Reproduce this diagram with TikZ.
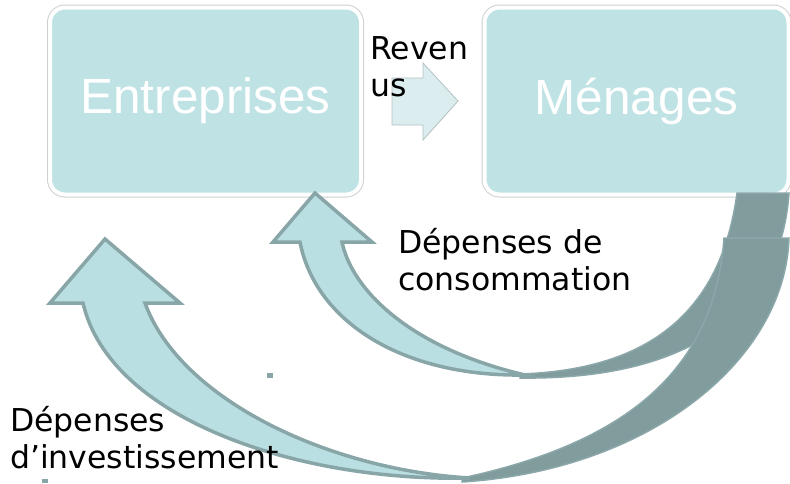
\documentclass[tikz,border=0pt]{standalone}
\usepackage{fontspec}
\setmainfont{DejaVu Sans}
\newfontfamily\boxfont{Liberation Sans}
\definecolor{boxfill}{HTML}{BFE2E4}
\definecolor{arrowfill}{HTML}{BADFE2}
\definecolor{arrowline}{HTML}{88A5A7}
\definecolor{darkband}{HTML}{819C9D}
\definecolor{darkline}{HTML}{8BA7A9}
\definecolor{revfill}{HTML}{DCEDEF}
\definecolor{revline}{HTML}{B3C1C2}
\definecolor{ringgray}{HTML}{CFCFCF}
\tikzset{
  boxnode/.style={rounded corners=15pt, inner sep=0pt, fill=boxfill, draw=white, line width=4pt,
    preaction={draw=ringgray, line width=6pt}, text=white,
    font=\boxfont\fontsize{49.5}{56}\selectfont},
  lightarrow/.style={fill=arrowfill, draw=arrowline, line width=3.5pt, line join=miter},
  darkarrow/.style={fill=darkband, draw=darkline, line width=1.5pt},
  revarrow/.style={fill=revfill, draw=revline, line width=0.8pt},
  lbl/.style={font=\fontsize{31.5}{37}\selectfont, inner sep=0pt, align=left, anchor=base west},
  dot/.style={fill=arrowline, draw=none}
}
\begin{document}
\begin{tikzpicture}[x=1pt, y=-1pt]
\useasboundingbox (0,0) rectangle (790,483);
% boxes
\node[boxnode, minimum width=311pt, minimum height=187pt] (ent) at (205.5,101) {Entreprises};
\node[boxnode, minimum width=304pt, minimum height=187pt] (men) at (636.5,101) {Ménages};
% revenus arrow
\draw[revarrow] (392,78) -- (423,78) -- (423,63) -- (458,101) -- (423,140) -- (423,125) -- (392,125) -- cycle;
% consumption arrow
\draw[darkarrow] (520,374) .. controls (640,370) and (720,320) .. (737,193) -- (789,193)
  .. controls (780,320) and (680,380) .. (520,378) -- cycle;
\draw[lightarrow] (315,193) -- (372,242) -- (342,242) .. controls (352,290) and (410,348) .. (525,375)
  .. controls (400,377) and (315,320) .. (300,242) -- (273,242) -- cycle;
% investment arrow
\draw[darkarrow] (462,478) .. controls (640,440) and (715,360) .. (724,238) -- (789,238)
  .. controls (785,360) and (650,470) .. (462,482) -- cycle;
\draw[lightarrow] (105,239) -- (180,303) -- (145,303) .. controls (180,400) and (330,470) .. (470,478)
  .. controls (300,482) and (110,420) .. (83,303) -- (50,303) -- cycle;
% small marks
\fill[dot] (267,373) rectangle (273,378);
\fill[dot] (42,479) rectangle (48,483);
% labels (anchored at the baseline of their last line)
\node[lbl] (lrev) at (370,96) {Reven\\us};
\node[lbl] (lcons) at (398,290) {Dépenses de\\consommation};
\node[lbl] (linv) at (10,468) {Dépenses\\d’investissement};
\end{tikzpicture}
\end{document}
